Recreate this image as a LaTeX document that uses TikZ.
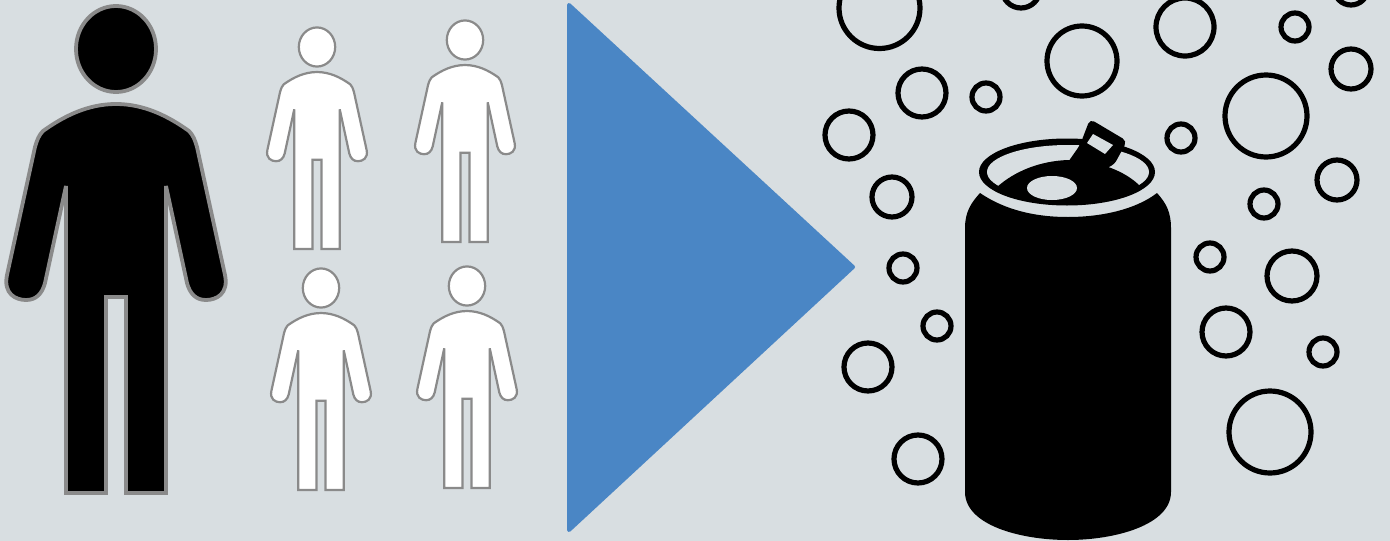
\documentclass[tikz,border=0pt]{standalone}
\definecolor{bgc}{HTML}{D8DEE1}
\definecolor{blu}{HTML}{4A86C5}
\definecolor{edgeg}{HTML}{8A8A8A}
\tikzset{
  bubble/.style={draw=black,line width=5.2pt,fill=none},
  can/.style={fill=black,draw=none},
  person/.pic={
    \path[pic actions] (0,0) ellipse [x radius=40,y radius=43];
    \path[pic actions,line join=miter,miter limit=2] (0,55)
      .. controls (28,55) and (52,67) .. (73,82)
      .. controls (77,86) and (79,91) .. (81,98)
      -- (109,226)
      .. controls (113,245) and (100,251) .. (90,251)
      .. controls (80,251) and (74,245) .. (71,234)
      -- (50,137) -- (50,444) -- (10,444) -- (10,248) -- (-10,248) -- (-10,444) -- (-50,444) -- (-50,137)
      -- (-71,234)
      .. controls (-74,245) and (-80,251) .. (-90,251)
      .. controls (-100,251) and (-113,245) .. (-109,226)
      -- (-81,98)
      .. controls (-79,91) and (-77,86) .. (-73,82)
      .. controls (-52,67) and (-28,55) .. (0,55) -- cycle;
  }
}
\begin{document}
\begin{tikzpicture}[x=1pt,y=-1pt]
\path[use as bounding box,fill=bgc] (0,0) rectangle (1390,541);
\pic[draw=edgeg,fill=black,line width=3.8pt] at (116,49) {person};
\foreach \px/\py in {317/47,465/40,321/288,467/286}{
  \pic[draw=edgeg,fill=white,line width=2.2pt,scale=0.455,transform shape] at (\px,\py) {person};
}
\fill[blu,draw=blu,line width=4pt,line join=round] (569,5) -- (853,267) -- (569,530) -- cycle;
\foreach \cx/\cy/\r in {879.5/8/40.5,1021/-11/19,1185/27/29,1295/27/14,1351/-12/17,1082/61/35,1351/69/20,922/93/24,986/97/14,1266/116/41,849/135/24,1181/138/14,1337/180/20,892/197/20,1264/204/14,1210/257/14,903/268/14,1292/276/25,937/326/14,1226/332/24,1323/352/14,868/367/24,1270/432/41,918/459/24}{
  \draw[bubble] (\cx,\cy) circle [radius=\r];
}
% can
\fill[can] (980,193) .. controls (1005,210) and (1035,217) .. (1068,217)
  .. controls (1100,217) and (1135,210) .. (1157,193)
  .. controls (1166,203) and (1171,212) .. (1171,228)
  -- (1171,492) .. controls (1171,525) and (1115,540) .. (1068,540)
  .. controls (1020,540) and (965,525) .. (965,492)
  -- (965,228) .. controls (965,212) and (971,203) .. (980,193) -- cycle;
\fill[can] (1067,172) ellipse [x radius=88,y radius=33.5];
\fill[bgc] (1068,172) ellipse [x radius=81,y radius=27];
\fill[can] (997,187) .. controls (1015,171) and (1040,161) .. (1068,160)
  .. controls (1095,160) and (1125,170) .. (1141,187)
  .. controls (1120,197) and (1095,201) .. (1068,201)
  .. controls (1045,201) and (1015,197) .. (997,187) -- cycle;
\fill[bgc] (1052,188) ellipse [x radius=25,y radius=12];
\fill[can,rounded corners=5pt] (1090,119) -- (1127,141) -- (1114,165) -- (1095,172) -- (1066,165) -- (1080,145) -- cycle;
\fill[bgc] (1093,134) -- (1113,145) -- (1105,154) -- (1087,143) -- cycle;
\end{tikzpicture}
\end{document}
